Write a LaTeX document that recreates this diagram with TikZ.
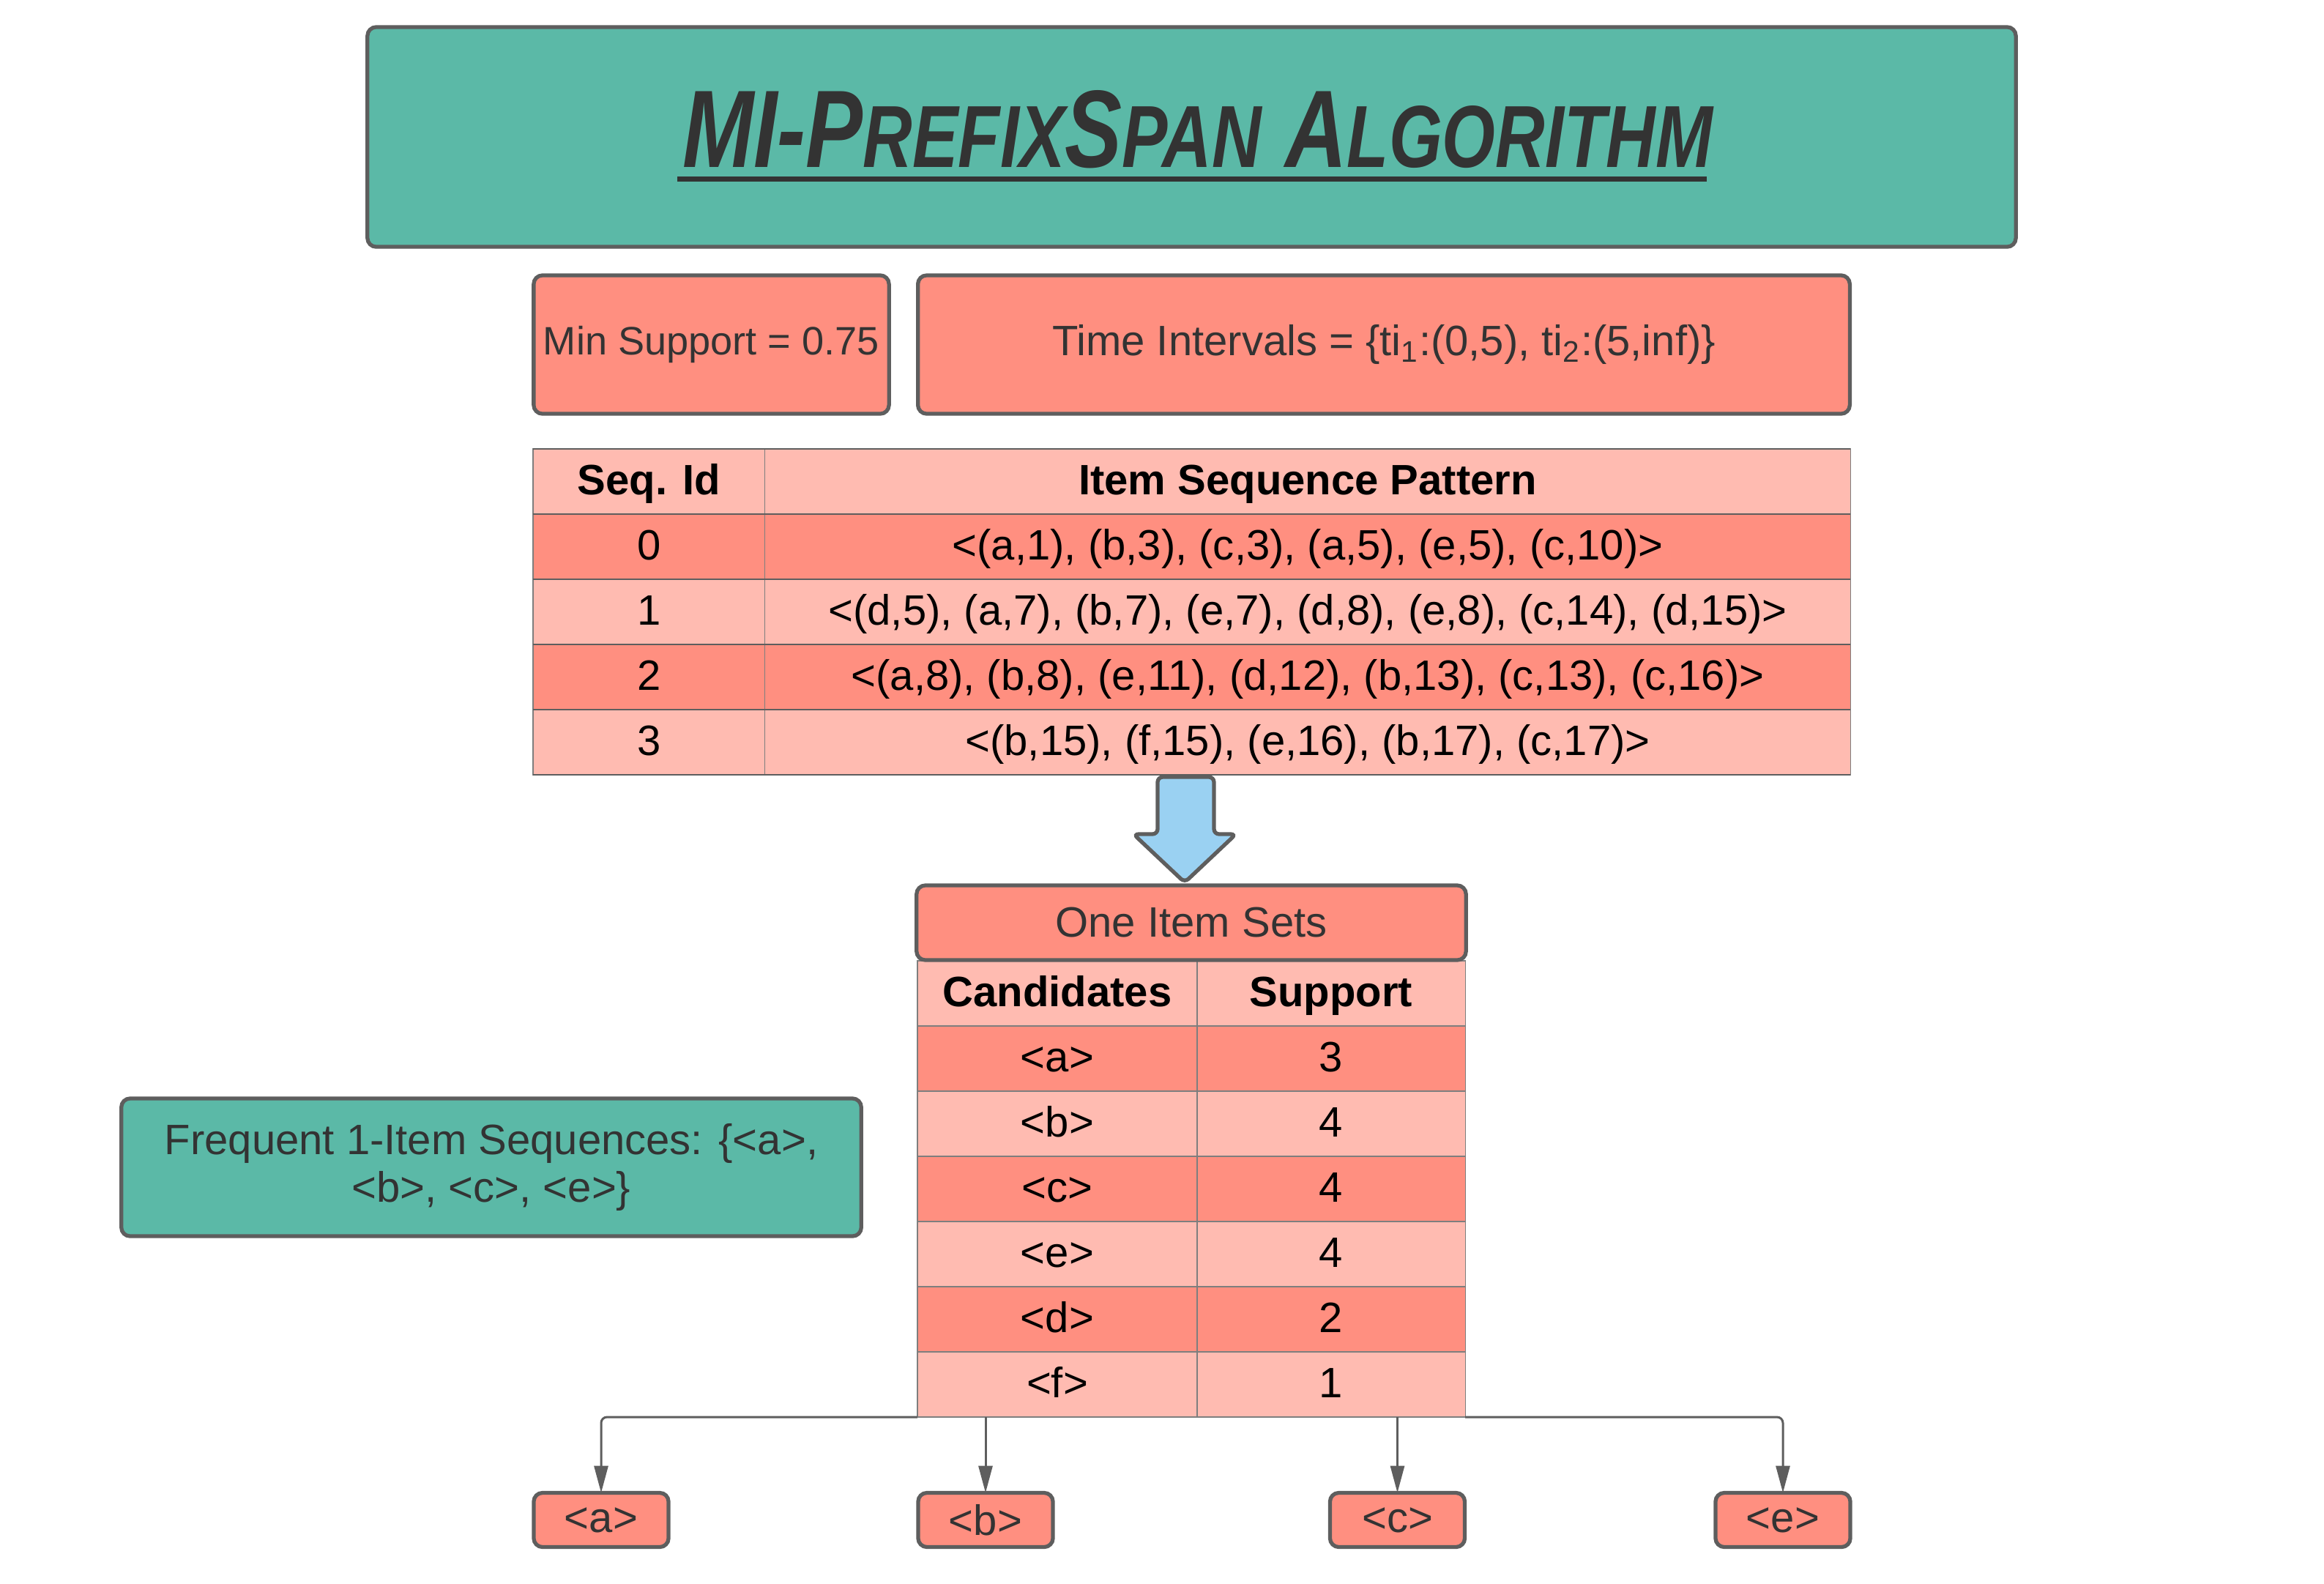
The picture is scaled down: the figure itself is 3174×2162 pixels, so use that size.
\documentclass[tikz,border=0pt]{standalone}
\usepackage{fontspec}
\setmainfont{Liberation Sans}
\usetikzlibrary{arrows.meta}

\definecolor{tealbox}{HTML}{5BB9A7}
\definecolor{salmon}{HTML}{FF8F80}
\definecolor{pinklight}{HTML}{FFBBB1}
\definecolor{linegray}{HTML}{5E5E5E}
\definecolor{ink}{HTML}{333333}
\definecolor{arrowblue}{HTML}{9AD1F2}

\newcommand{\bodyfont}{\fontsize{16.5pt}{18.5pt}\selectfont}
\newcommand{\smallcap}[1]{{\fontsize{16pt}{16pt}\selectfont #1}}

\begin{document}
\begin{tikzpicture}[x=0.01cm,y=-0.01cm,
  rbox/.style={draw=linegray, line width=1.5pt, rounded corners=0.12cm,
    text=ink, font=\bodyfont, inner sep=0pt, outer sep=0pt, align=center},
  cell/.style={draw=linegray!80, line width=0.35pt, inner sep=0pt, outer sep=0pt,
    font=\bodyfont, text=black, minimum height=0.89cm,
    text height=1.15em, text depth=0.15em},
  headcell/.style={cell, fill=pinklight, font=\bodyfont\bfseries},
  rowsep/.style={draw=linegray, line width=0.7pt},
  conn/.style={draw=linegray, line width=0.85pt, rounded corners=0.08cm,
    -{Triangle[length=10.5pt,width=5.4pt]}}
]
\useasboundingbox[fill=white] (0,0) rectangle (3174,2162);

% title banner
\node[rbox, fill=tealbox, minimum width=22.5cm, minimum height=3.0cm] (banner) at (1627.5,187) {};
\node[anchor=base west, inner sep=0pt, outer sep=0pt, text=ink] (title) at (932,228)
  {\resizebox{14.06cm}{1.05cm}{\fontsize{20pt}{20pt}\selectfont\bfseries\itshape
   MI-P\smallcap{REFIX}S\smallcap{PAN} A\smallcap{LGORITHM}}};
\draw[ink, line width=2pt] ([shift={(-0.07cm,-0.15cm)}]title.south west) -- ([shift={(-0.08cm,-0.15cm)}]title.south east);

% parameters
\node[rbox, fill=salmon, minimum width=4.85cm, minimum height=1.89cm] (minsup) at (971.5,470.5)
  {\fontsize{15.4pt}{18pt}\selectfont Min Support = 0.75};
\node[rbox, fill=salmon, minimum width=12.72cm, minimum height=1.89cm] (tint) at (1890,470.5)
  {Time Intervals = \{ti\textsubscript{1}:(0,5), ti\textsubscript{2}:(5,inf)\}};

% sequence database
\node[headcell, minimum width=3.17cm] (sha) at (886.5,657.5) {Seq. Id};
\node[headcell, minimum width=14.82cm] (shb) at (1786,657.5) {Item Sequence Pattern};
\node[cell, fill=salmon, minimum width=3.17cm] (s0a) at (886.5,746.5) {0};
\node[cell, fill=salmon, minimum width=14.82cm] (s0b) at (1786,746.5) {<(a,1), (b,3), (c,3), (a,5), (e,5), (c,10)>};
\node[cell, fill=pinklight, minimum width=3.17cm] (s1a) at (886.5,835.5) {1};
\node[cell, fill=pinklight, minimum width=14.82cm] (s1b) at (1786,835.5) {<(d,5), (a,7), (b,7), (e,7), (d,8), (e,8), (c,14), (d,15)>};
\node[cell, fill=salmon, minimum width=3.17cm] (s2a) at (886.5,924.5) {2};
\node[cell, fill=salmon, minimum width=14.82cm] (s2b) at (1786,924.5) {<(a,8), (b,8), (e,11), (d,12), (b,13), (c,13), (c,16)>};
\node[cell, fill=pinklight, minimum width=3.17cm] (s3a) at (886.5,1013.5) {3};
\node[cell, fill=pinklight, minimum width=14.82cm] (s3b) at (1786,1013.5) {<(b,15), (f,15), (e,16), (b,17), (c,17)>};
\draw[rowsep] (sha.north west) -- (shb.north east);
\foreach \r in {sh,s0,s1,s2,s3}
  \draw[rowsep] (\r a.south west) -- (\r b.south east);

% transition arrow
\draw[fill=arrowblue, draw=linegray, line width=1.5pt, rounded corners=0.07cm]
  (1581,1061) -- (1581,1139) -- (1548,1139) -- (1618,1205) -- (1688,1139)
  -- (1658,1139) -- (1658,1061) -- cycle;

% one item sets
\node[headcell, minimum width=3.82cm] (cha) at (1444,1356.5) {Candidates};
\node[headcell, minimum width=3.66cm] (chb) at (1818,1356.5) {Support};
\node[cell, fill=salmon, minimum width=3.82cm] (caa) at (1444,1445.5) {<a>};
\node[cell, fill=salmon, minimum width=3.66cm] (cab) at (1818,1445.5) {3};
\node[cell, fill=pinklight, minimum width=3.82cm] (cba) at (1444,1534.5) {<b>};
\node[cell, fill=pinklight, minimum width=3.66cm] (cbb) at (1818,1534.5) {4};
\node[cell, fill=salmon, minimum width=3.82cm] (cca) at (1444,1623.5) {<c>};
\node[cell, fill=salmon, minimum width=3.66cm] (ccb) at (1818,1623.5) {4};
\node[cell, fill=pinklight, minimum width=3.82cm] (cea) at (1444,1712.5) {<e>};
\node[cell, fill=pinklight, minimum width=3.66cm] (ceb) at (1818,1712.5) {4};
\node[cell, fill=salmon, minimum width=3.82cm] (cda) at (1444,1801.5) {<d>};
\node[cell, fill=salmon, minimum width=3.66cm] (cdb) at (1818,1801.5) {2};
\node[cell, fill=pinklight, minimum width=3.82cm] (cfa) at (1444,1890.5) {<f>};
\node[cell, fill=pinklight, minimum width=3.66cm] (cfb) at (1818,1890.5) {1};
\node[rbox, fill=salmon, minimum width=7.5cm, minimum height=1.02cm] (oneset) at (1627,1260) {One Item Sets};

% frequent sequences
\node[rbox, fill=tealbox, minimum width=10.1cm, minimum height=1.88cm] (freq) at (671,1594)
  {Frequent 1-Item Sequences: \{<a>,\\ <b>, <c>, <e>\}};

% projected prefixes
\node[rbox, fill=salmon, minimum width=1.84cm, minimum height=0.74cm] (ba) at (821,2075.5) {<a>};
\node[rbox, fill=salmon, minimum width=1.84cm, minimum height=0.74cm] (bb) at (1346,2075.5) {<b>};
\node[rbox, fill=salmon, minimum width=1.84cm, minimum height=0.74cm] (bc) at (1908.5,2075.5) {<c>};
\node[rbox, fill=salmon, minimum width=1.84cm, minimum height=0.74cm] (be) at (2435,2075.5) {<e>};

\draw[conn] (cfa.south west) -| (ba.north);
\draw[conn] (cfa.south -| bb.north) -- (bb.north);
\draw[conn] (cfb.south -| bc.north) -- (bc.north);
\draw[conn] (cfb.south east) -| (be.north);
\end{tikzpicture}
\end{document}
